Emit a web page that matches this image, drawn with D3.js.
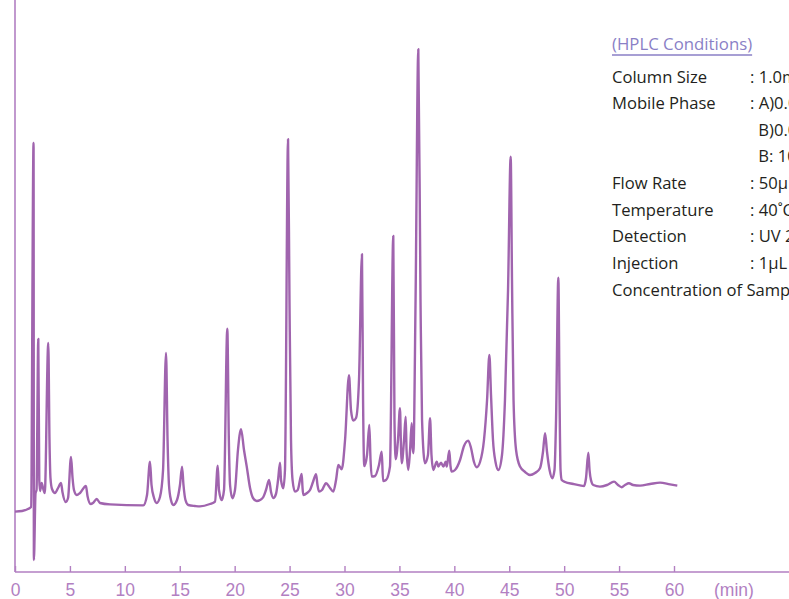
<!DOCTYPE html>
<html>
<head>
<meta charset="utf-8">
<script src="https://cdn.jsdelivr.net/npm/d3@7"></script>
<style>
    body { margin: 0; background: #fff; overflow: hidden; }
    #chart { width: 789px; height: 599px; }
</style>
</head>
<body>
<div id="chart"></div>
<script>
// retention time (min)
var retentionTime = [
    0, 0.64, 1.18, 1.46, 1.69, 1.72, 1.87, 1.96, 2.12, 2.21, 2.28, 2.43, 2.55, 2.71, 3.03, 3.14, 3.23, 3.37,
    3.64, 3.92, 4.19, 4.32, 4.62, 4.83, 5.10, 5.24, 5.37, 5.62, 5.92, 6.46, 6.60, 6.89, 7.10, 7.44, 7.74, 8.65,
    11.68, 12.02, 12.29, 12.43, 12.66, 12.90, 13.20, 13.48, 13.75, 13.89, 14.02, 14.20, 14.41, 14.75, 15.02,
    15.21, 15.34, 15.52, 15.78, 16.39, 16.84,
    17.75, 18.21, 18.46, 18.57, 18.82, 19.03, 19.33, 19.47, 19.58, 19.79, 20.03, 20.30, 20.58, 20.85, 21.10,
    21.40, 21.67, 22.01, 22.31, 22.61, 22.85, 23.13, 23.31, 23.52, 23.76, 23.95, 24.13, 24.22, 24.43, 24.58,
    24.86, 24.99, 25.13, 25.27, 25.49, 25.74, 26.10, 26.18, 26.25, 26.59, 26.86, 27.13, 27.41, 27.54, 27.68,
    27.95, 28.32, 28.68, 28.98, 29.23, 29.44, 29.75, 30.05, 30.41, 30.59, 30.80, 31.05, 31.32, 31.59, 31.69,
    31.80, 32.05, 32.26, 32.37, 32.48, 32.78, 33.14, 33.39, 33.51, 33.78, 34.14, 34.44, 34.55, 34.66, 34.87,
    35.05, 35.15, 35.21, 35.42, 35.57, 35.65, 35.81, 35.97, 36.12, 36.19, 36.27, 36.47, 36.72, 36.92, 37.06,
    37.33, 37.60, 37.79, 37.92, 38.09, 38.40, 38.54, 38.79, 39.00, 39.22, 39.31, 39.54, 39.65, 39.76, 40.06,
    40.52, 40.88, 41.27, 41.52, 41.79, 42.04, 42.34, 42.70, 42.98, 43.19, 43.34, 43.52, 43.75, 44.01, 44.34,
    44.61, 44.89, 45.13, 45.25, 45.39, 45.62, 45.98, 46.44, 46.89, 47.35, 47.80, 48.07, 48.26, 48.44, 48.67,
    48.92, 49.12, 49.26, 49.47, 49.58, 49.67, 49.78, 50.08, 50.83, 51.44, 51.81, 51.99, 52.20, 52.31, 52.44,
    52.65, 53.26, 53.90, 54.54, 54.90, 55.24, 55.54, 55.90, 56.27, 56.91, 57.82, 58.73, 59.64, 60.30
];

// detector response (mAU)
var absorbance = [
    30.2, 30.5, 31.5, 32.5, 214.5, 6, 39.5, 41, 116.5, 46, 40.5, 44.5, 42, 39.5, 114.5, 66, 47, 41.5,
    39.5, 42, 44.5, 40, 35, 37, 57.5, 47, 41, 38.5, 39.5, 43, 38, 34, 34.5, 36.5, 34.5, 33.8,
    33.3, 38.5, 55.2, 43.5, 37, 34.5, 37.5, 51, 109.5, 66, 43.5, 36, 33.5, 36, 43.5,
    52.7, 43.5, 36, 33.5, 33, 32.8,
    34, 35.2, 53.2, 41, 36, 41, 121.7, 66, 43.5, 36.9, 41, 61, 71.4, 61, 52.7,
    42, 37, 35.5, 36, 37.5, 41, 46, 40, 37, 39, 46, 54.7, 46, 41.9, 51,
    216.4, 136, 66, 46, 40.2, 41, 49, 42, 38.5, 39.5, 41, 45, 48.9, 43.5, 40.2,
    41, 44.4, 42, 40.2, 46, 53.5, 51.4, 66, 98.4, 81, 75.7, 77, 96, 158.9, 86,
    53, 58.5, 73.5, 56, 47.7, 48, 53.5, 60.2, 45.5, 46, 52.7, 168, 76, 56.4, 66,
    81.9, 61, 54.4, 66, 77.7, 61, 51, 61, 74.4, 63.5, 59.4, 136, 261.4, 136, 76,
    54.4, 58.5, 76.9, 58.5, 51, 55.2, 52.7, 54.7, 52.7, 55.2, 52.7, 60.7, 53, 50.2, 51,
    56, 63, 65.7, 62, 55, 52.4, 55, 66, 86, 108.5, 88.5, 66, 55, 51, 58.5,
    86, 141, 207.7, 146, 86, 61, 52.7, 50, 48.5, 49.5, 51.9, 60, 69.4, 60, 51,
    46.9, 51, 76, 147.2, 86, 51, 46, 45, 44, 43.3, 43, 47, 59.7, 51, 46,
    43.5, 42.7, 43.5, 45.2, 43.5, 42.4, 43.5, 44.4, 43.5, 43.2, 44, 44.7, 43.8, 43.2
];

var timeTicks = [0, 5, 10, 15, 20, 25, 30, 35, 40, 45, 50, 55, 60];

var conditionLabels = ['Column Size', 'Mobile Phase', '', '', 'Flow Rate', 'Temperature', 'Detection', 'Injection', 'Concentration of Sample'];
var conditionValues = [': 1.0mm I.D. × 150mm', ': A)0.05% TFA in H2O', ' B)0.05% TFA in CH3CN', ' B: 10→60% (60min)', ': 50μL/min', ': 40˚C', ': UV 214nm', ': 1μL', ''];

var lineColor = '#a064ae';
var axisColor = '#b27fc2';

function drawChart(id) {
    var width = 789;
    var height = 599;

    var svg = d3.select(id)
        .append('svg')
        .attr('width', width)
        .attr('height', height);

    var x = d3.scaleLinear().domain([0, 60]).range([15, 674]);
    var y = d3.scaleLinear().domain([0, 286]).range([572, 0]);

    // axes
    svg.append('line')
        .attr('x1', x(0)).attr('x2', width)
        .attr('y1', y(0)).attr('y2', y(0))
        .style('stroke', axisColor)
        .style('stroke-width', 1.6);

    svg.append('line')
        .attr('x1', x(0)).attr('x2', x(0))
        .attr('y1', 0).attr('y2', y(0))
        .style('stroke', axisColor)
        .style('stroke-width', 1.6);

    var xAxis = d3.axisBottom(x)
        .tickValues(timeTicks)
        .tickSizeInner(-6)
        .tickSizeOuter(0);

    var ax = svg.append('g')
        .attr('transform', 'translate(0,' + y(0) + ')')
        .call(xAxis);

    ax.select('.domain').remove();
    ax.selectAll('.tick line')
        .style('stroke', axisColor)
        .style('stroke-width', 1.4);
    ax.selectAll('.tick text')
        .attr('y', 24)
        .attr('dy', 0)
        .style('fill', axisColor)
        .style('font-family', '"Liberation Sans", Arial, sans-serif')
        .style('font-size', '17.5px');

    svg.append('text')
        .attr('x', 714)
        .attr('y', y(0) + 24)
        .text('(min)')
        .style('fill', axisColor)
        .style('font-family', '"Liberation Sans", Arial, sans-serif')
        .style('font-size', '17.5px');

    // chromatogram
    var points = retentionTime.map(function(t, i) { return [t, absorbance[i]]; });

    var line = d3.line()
        .curve(d3.curveMonotoneX)
        .x(function(d) { return x(d[0]); })
        .y(function(d) { return y(d[1]); });

    svg.append('path')
        .datum(points)
        .attr('d', line)
        .style('fill', 'none')
        .style('stroke', lineColor)
        .style('stroke-width', 2.4)
        .style('stroke-linejoin', 'round');

    // conditions panel
    var panel = svg.append('g')
        .style('font-family', '"Open Sans", sans-serif');

    var title = panel.append('text')
        .attr('x', 612)
        .attr('y', 50)
        .text('(HPLC Conditions)')
        .style('fill', '#8a7fc6')
        .style('font-size', '16.8px');

    var tw = title.node().getComputedTextLength();
    panel.append('line')
        .attr('x1', 612).attr('x2', 612 + tw)
        .attr('y1', 55).attr('y2', 55)
        .style('stroke', '#8a7fc6')
        .style('stroke-width', 1.5);

    var rows = panel.selectAll('.row')
        .data(conditionLabels)
        .enter().append('g')
        .attr('class', 'row')
        .attr('transform', function(d, i) { return 'translate(0,' + (82.5 + i * 26.65) + ')'; });

    rows.append('text')
        .attr('x', 612)
        .text(function(d) { return d; })
        .style('fill', '#231f20')
        .style('font-size', '16.6px');

    rows.append('text')
        .attr('x', function(d, i) { return conditionValues[i].charAt(0) === ':' ? 750 : 754; })
        .text(function(d, i) { return conditionValues[i]; })
        .style('fill', '#231f20')
        .style('font-size', '16.6px')
        .style('white-space', 'pre');
}

drawChart('#chart');
</script>
</body>
</html>
